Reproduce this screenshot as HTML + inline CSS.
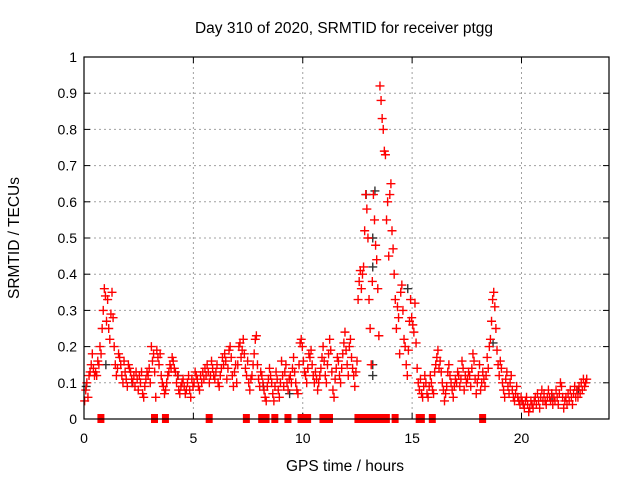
<!DOCTYPE html>
<html><head><meta charset="utf-8"><style>
body{margin:0;background:#fff}
svg{display:block;font-family:"Liberation Sans",sans-serif}
</style></head><body>
<svg id="chart" width="640" height="480" viewBox="0 0 640 480">
<text x="344" y="33" font-size="15.5" text-anchor="middle">Day 310 of 2020, SRMTID for receiver ptgg</text>
<text transform="translate(19,238) rotate(-90)" font-size="15.5" text-anchor="middle">SRMTID / TECUs</text>
<text x="345" y="471" font-size="15.5" text-anchor="middle">GPS time / hours</text>
<g id="grid"></g>
<g id="ticks"></g>
<g id="dark"></g>
<g id="red"></g>
<g id="gaps"></g>
<rect x="84" y="57" width="525" height="362" fill="none" stroke="#000" stroke-width="1.2"/>
</svg>
<script>
const xTicks=[0,5,10,15,20];
const yTicks=[0,0.1,0.2,0.3,0.4,0.5,0.6,0.7,0.8,0.9,1];
const yTickLabels=["0","0.1","0.2","0.3","0.4","0.5","0.6","0.7","0.8","0.9","1"];
const sampleStart=0.03, sampleStep=0.05;
const redValues=[
0.05,0.08,0.10,0.06,0.12,0.13,0.15,0.18,0.14,0.12,
0.13,0.12,0.16,0.15,0.20,0.18,0.25,0.30,0.36,0.34,
0.27,0.33,0.25,0.22,0.29,0.35,0.28,0.20,0.15,0.12,
0.14,0.18,0.17,0.15,0.12,0.10,0.16,0.13,0.11,0.09,
0.15,0.14,0.13,0.11,0.10,0.12,0.09,0.13,0.11,0.08,
0.12,0.10,0.13,0.07,0.06,0.09,0.11,0.13,0.12,0.14,
0.10,0.20,0.16,0.18,0.13,0.06,0.19,0.17,0.15,0.18,
0.12,0.10,0.09,0.07,0.08,0.10,0.12,0.13,0.15,0.14,
0.17,0.16,0.14,0.13,0.10,0.12,0.08,0.07,0.09,0.10,
0.11,0.09,0.07,0.08,0.10,0.12,0.08,0.06,0.11,0.09,
0.10,0.13,0.12,0.11,0.09,0.08,0.12,0.10,0.13,0.11,
0.14,0.12,0.15,0.13,0.10,0.12,0.16,0.14,0.12,0.11,
0.13,0.15,0.10,0.09,0.12,0.14,0.17,0.15,0.18,0.16,
0.11,0.14,0.19,0.20,0.17,0.12,0.09,0.13,0.15,0.10,
0.15,0.20,0.21,0.17,0.19,0.22,0.18,0.14,0.12,0.16,
0.10,0.08,0.11,0.12,0.15,0.18,0.22,0.23,0.15,0.11,
0.09,0.13,0.12,0.10,0.08,0.06,0.05,0.09,0.11,0.14,
0.12,0.10,0.07,0.05,0.09,0.13,0.11,0.08,0.06,0.10,
0.16,0.12,0.09,0.13,0.15,0.10,0.08,0.11,0.12,0.10,
0.14,0.17,0.13,0.10,0.08,0.07,0.15,0.21,0.22,0.20,
0.16,0.13,0.12,0.10,0.14,0.18,0.17,0.19,0.15,0.12,
0.10,0.13,0.11,0.08,0.10,0.12,0.14,0.17,0.20,0.16,
0.12,0.10,0.15,0.18,0.22,0.19,0.13,0.08,0.06,0.11,
0.14,0.17,0.16,0.12,0.10,0.14,0.18,0.21,0.24,0.19,
0.15,0.12,0.20,0.22,0.17,0.14,0.12,0.09,0.13,0.16,
0.33,0.38,0.41,0.36,0.40,0.42,0.52,0.62,0.58,0.50,
0.33,0.25,0.15,0.38,0.62,0.55,0.48,0.44,0.36,0.23,
0.92,0.88,0.83,0.80,0.74,0.73,0.55,0.60,0.45,0.62,
0.65,0.52,0.47,0.40,0.33,0.25,0.31,0.28,0.18,0.35,
0.37,0.30,0.22,0.20,0.15,0.12,0.19,0.27,0.33,0.28,
0.26,0.24,0.32,0.21,0.14,0.10,0.08,0.11,0.07,0.06,
0.09,0.12,0.10,0.07,0.06,0.09,0.12,0.10,0.08,0.07,
0.13,0.15,0.17,0.19,0.14,0.16,0.13,0.10,0.08,0.05,
0.07,0.09,0.13,0.15,0.12,0.10,0.08,0.06,0.09,0.11,
0.10,0.13,0.12,0.09,0.11,0.16,0.14,0.08,0.12,0.10,
0.11,0.13,0.12,0.09,0.14,0.18,0.16,0.11,0.07,0.10,
0.12,0.15,0.08,0.10,0.13,0.11,0.09,0.12,0.17,0.14,
0.20,0.22,0.27,0.33,0.35,0.31,0.25,0.19,0.15,0.12,
0.16,0.14,0.10,0.08,0.06,0.11,0.13,0.09,0.07,0.10,
0.12,0.08,0.06,0.05,0.07,0.09,0.06,0.05,0.04,0.06,
0.05,0.04,0.03,0.05,0.06,0.04,0.02,0.03,0.05,0.04,
0.03,0.05,0.06,0.04,0.07,0.05,0.03,0.06,0.08,0.05,
0.07,0.05,0.04,0.06,0.08,0.06,0.05,0.07,0.04,0.06,
0.05,0.08,0.06,0.04,0.07,0.10,0.09,0.06,0.03,0.05,
0.06,0.04,0.07,0.05,0.08,0.06,0.04,0.07,0.09,0.06,
0.08,0.06,0.09,0.07,0.10,0.08,0.11,0.09,0.10,0.11];
const darkTimes=[0.1,1.0,2.2,4.3,8.2,9.4,12.9,13.2,13.2,13.2,13.2,13.3,14.8,18.7,21.4,22.6];
const darkValues=[0.09,0.15,0.10,0.12,0.09,0.07,0.62,0.50,0.42,0.15,0.12,0.63,0.36,0.21,0.06,0.08];
const gapTimes=[0.75,3.2,3.7,5.7,7.4,8.1,8.3,8.7,9.3,9.9,10.05,10.2,10.9,11.2,12.5,12.65,12.8,12.95,13.1,13.4,13.6,13.8,14.2,15.3,15.4,15.9,18.2];
const NS='http://www.w3.org/2000/svg';
const X=t=>84+t*(525/24);
const Y=v=>419-v*362;
function mk(tag,attrs,parent){const e=document.createElementNS(NS,tag);for(const k in attrs)e.setAttribute(k,attrs[k]);parent.appendChild(e);return e;}
const grid=document.getElementById('grid'),ticks=document.getElementById('ticks');
yTicks.forEach((v,i)=>{
  if(v>0&&v<1){const l=mk('line',{x1:84,x2:609,y1:Y(v),y2:Y(v),stroke:'#a0a0a0','stroke-dasharray':'2,3'},grid);
  
  }
  mk('line',{x1:84,x2:90,y1:Y(v),y2:Y(v),stroke:'#000'},ticks);
  mk('line',{x1:603,x2:609,y1:Y(v),y2:Y(v),stroke:'#000'},ticks);
  const t=mk('text',{x:77,y:Y(v)+5,'font-size':14,'text-anchor':'end'},ticks);t.textContent=yTickLabels[i];
  
  
});
xTicks.forEach(v=>{
  if(v>0){const l=mk('line',{x1:X(v),x2:X(v),y1:57,y2:419,stroke:'#a0a0a0','stroke-dasharray':'2,3'},grid);
  
  }
  mk('line',{x1:X(v),x2:X(v),y1:413,y2:419,stroke:'#000'},ticks);
  mk('line',{x1:X(v),x2:X(v),y1:57,y2:63,stroke:'#000'},ticks);
  const t=mk('text',{x:X(v),y:443,'font-size':14,'text-anchor':'middle'},ticks);t.textContent=String(v);
  
  
});
function cross(g,x,y,c){return mk('path',{d:`M${x-4.5},${y}H${x+4.5}M${x},${y-4.5}V${y+4.5}`,stroke:c,'stroke-width':1.4,fill:'none'},g);}
const dark=document.getElementById('dark');
darkTimes.forEach((t,i)=>{const p=cross(dark,X(t),Y(darkValues[i]),'#333');
  
  });
const red=document.getElementById('red');
redValues.forEach((v,i)=>{const t=sampleStart+i*sampleStep;const p=cross(red,X(t),Y(v),'#f00');
  
  });
const gaps=document.getElementById('gaps');
gapTimes.forEach(t=>{const r=mk('rect',{x:X(t)-3,y:Y(0)-5,width:7,height:9,fill:'#f00'},gaps);
  
  });
</script>
</body></html>
